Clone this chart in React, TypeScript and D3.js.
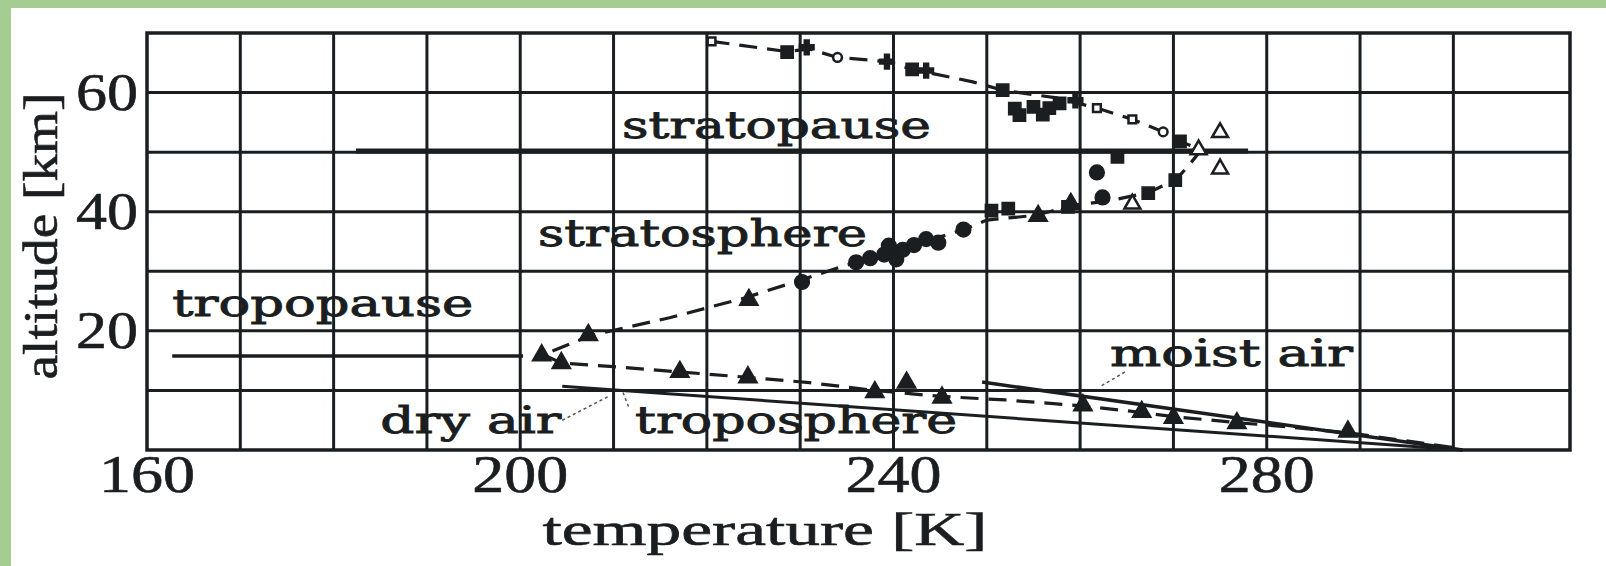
import React from 'react';
import * as d3 from 'd3';

// axes
const tempDomain = [160, 312.5];
const altDomain = [0, 70];
const xTickLabels = [160, 200, 240, 280];
const yTickLabels = [20, 40, 60];

// dashed mean profile, temperature [K] vs altitude [km]
const profileT = [220.5, 228.5, 231, 234, 239.3, 242, 248.5, 251.7, 257.5, 261.8, 265.6, 268.9, 270.7, 273,
  271.5, 270.2, 267.3, 263, 259, 255.3, 250, 247.5, 243, 238, 234.5, 230.2, 224, 216, 207.5, 202.5,
  204.4, 210, 217.1, 224.4, 231, 238, 245, 252, 260.3, 266.6, 270, 276.8, 280, 288.7, 300.5];
const profileAlt = [68.6, 66.9, 67.3, 65.9, 65.2, 63.9, 61.8, 60.4, 59.1, 57.4, 55.5, 53.4, 51.8, 50.4,
  47.5, 45.3, 43.2, 41.8, 41, 39.4, 38.6, 37, 34.8, 32.4, 30.8, 28.6, 25.5, 22.2, 19.2, 16,
  14.6, 14, 13.1, 12.2, 11.3, 10, 9, 8.4, 7.4, 6.3, 5.6, 4.6, 4.2, 2.9, 0.3];

const stratopauseT = [182.4, 278];
const stratopauseAlt = [50.2, 50.2];
const tropopauseT = [162.7, 200.3];
const tropopauseAlt = [15.8, 15.8];
const dryAirT = [204.5, 301];
const dryAirAlt = [10.7, 0];
const moistAirT = [249.5, 301];
const moistAirAlt = [11.4, 0];

// measurements by marker type: [T, alt]
const filledSquares = [[228.6, 66.8], [242, 63.9], [251.7, 60.4], [253, 57.3], [255, 57.6], [256.7, 57.4],
  [253.5, 56.2], [256, 56.3], [257.8, 58.2], [264, 49.2], [270.7, 51.8], [258.7, 40.8], [267.3, 43.1],
  [270.2, 45.3], [250.5, 40.2], [252.3, 40.5]];
const crosses = [[230.7, 67.6], [239.3, 65.2], [243.5, 63.7], [259.5, 58.7]];
const openCircles = [[234, 65.9], [268.9, 53.4]];
const openSquares = [[220.5, 68.6], [261.8, 57.4], [265.6, 55.5]];
const openTriangles = [[275, 53.3], [275, 47.2], [265.6, 41.3], [272.7, 50.4]];
const filledCircles = [[261.8, 46.6], [262.4, 42.4], [230.2, 28.2], [236, 31.5], [237.5, 32.2], [239, 32.8],
  [240.3, 32], [241, 33.6], [242.2, 34.4], [243.5, 35.4], [239.5, 34.3], [244.8, 34.8], [247.5, 37]];
const filledTriangles = [[255.5, 39.3], [259, 41.3], [224.5, 25.2], [207.3, 19.3], [202.3, 15.9], [204.4, 14.6],
  [217.1, 13.1], [224.4, 12.2], [238, 9.7], [241.4, 11.3], [245.2, 8.8], [260.3, 7.5], [266.6, 6.4],
  [270, 5.4], [276.8, 4.5], [288.7, 3.1]];

// annotations: text, anchor (left, baseline) in data units, width in px
const labels = [
  { text: 'stratopause', t: 210.9, alt: 52.3, w: 309 },
  { text: 'stratosphere', t: 201.9, alt: 34.2, w: 329 },
  { text: 'tropopause', t: 162.7, alt: 22.5, w: 301 },
  { text: 'moist air', t: 263.2, alt: 14.1, w: 243 },
  { text: 'dry air', t: 185, alt: 2.8, w: 181 },
  { text: 'troposphere', t: 212.3, alt: 2.8, w: 322 },
];
const leaders = [
  [[204.5, 5.0], [209.6, 9.1]],
  [[211.6, 7.3], [210.9, 10.1]],
  [[264.8, 13.1], [262.1, 10.6]],
];

const INK = '#1b1e20';

export default function App() {
  const x = d3.scaleLinear().domain(tempDomain).range([147, 1570]);
  const y = d3.scaleLinear().domain(altDomain).range([450, 33]);
  const path = (ts: number[], as: number[]) =>
    d3.line()(ts.map((t, i) => [x(t), y(as[i])] as [number, number])) || '';
  const sym = (type: d3.SymbolType, size: number) => d3.symbol().type(type).size(size)() || '';

  const markers = (pts: number[][], type: d3.SymbolType, size: number, filled: boolean) =>
    pts.map((p, i) => (
      <path key={i} d={sym(type, size)}
        transform={`translate(${x(p[0])},${y(p[1])})`}
        fill={filled ? INK : '#fff'} stroke={INK} strokeWidth={filled ? 1.5 : 2.5} />
    ));

  const serif = '"Liberation Serif", "Times New Roman", serif';
  const slab = '"DejaVu Serif", serif';

  return (
    <svg width={1606} height={566} style={{ display: 'block', position: 'absolute', left: 0, top: 0 }}>
      <rect width={1606} height={566} fill="#a3cd91" />
      <rect x={11} y={8} width={1595} height={558} fill="#fff" />

      {/* grid */}
      {d3.range(170, 301, 10).map(t => (
        <line key={'v' + t} x1={x(t)} x2={x(t)} y1={y(70)} y2={y(0)} stroke={INK} strokeWidth={3} />
      ))}
      {d3.range(10, 61, 10).map(a => (
        <line key={'h' + a} x1={x(160)} x2={x(312.5)} y1={y(a)} y2={y(a)} stroke={INK} strokeWidth={3} />
      ))}
      <rect x={x(160)} y={y(70)} width={x(312.5) - x(160)} height={y(0) - y(70)}
        fill="none" stroke={INK} strokeWidth={3.5} />

      {/* reference lines */}
      <path d={path(stratopauseT, stratopauseAlt)} stroke={INK} strokeWidth={5} fill="none" />
      <path d={path(tropopauseT, tropopauseAlt)} stroke={INK} strokeWidth={3.5} fill="none" />
      <path d={path(dryAirT, dryAirAlt)} stroke={INK} strokeWidth={3} fill="none" />
      <path d={path(moistAirT, moistAirAlt)} stroke={INK} strokeWidth={3.5} fill="none" />
      <path d={path(profileT, profileAlt)} stroke={INK} strokeWidth={3.2} fill="none" strokeDasharray="18,10" />

      {leaders.map((l, i) => (
        <line key={i} x1={x(l[0][0])} y1={y(l[0][1])} x2={x(l[1][0])} y2={y(l[1][1])}
          stroke="#555" strokeWidth={1.5} strokeDasharray="3,3" />
      ))}

      {/* measurements */}
      {markers(filledSquares, d3.symbolSquare, 150, true)}
      {markers(filledCircles, d3.symbolCircle, 170, true)}
      {markers(filledTriangles, d3.symbolTriangle, 150, true)}
      {markers(crosses, d3.symbolCross, 120, true)}
      {markers(openCircles, d3.symbolCircle, 60, false)}
      {markers(openSquares, d3.symbolSquare, 60, false)}
      {markers(openTriangles, d3.symbolTriangle, 110, false)}

      {/* annotations */}
      {labels.map(l => (
        <text key={l.text} x={x(l.t)} y={y(l.alt)} fontFamily={slab} fontSize={37} fill={INK}
          stroke={INK} strokeWidth={0.9} textLength={l.w} lengthAdjust="spacingAndGlyphs">{l.text}</text>
      ))}

      {/* tick labels */}
      {xTickLabels.map(t => (
        <text key={t} x={x(t)} y={492} textAnchor="middle" fontFamily={serif} fontSize={52} fill={INK}
          stroke={INK} strokeWidth={0.6} textLength={96} lengthAdjust="spacingAndGlyphs">{t}</text>
      ))}
      {yTickLabels.map(a => (
        <text key={a} x={138} y={y(a) + 17} textAnchor="end" fontFamily={serif} fontSize={52} fill={INK}
          stroke={INK} strokeWidth={0.6} textLength={62} lengthAdjust="spacingAndGlyphs">{a}</text>
      ))}

      <text x={765} y={545} textAnchor="middle" fontFamily={serif} fontSize={46} fill={INK}
        stroke={INK} strokeWidth={0.6} textLength={445} lengthAdjust="spacingAndGlyphs">temperature [K]</text>
      <text transform={`translate(57,236) rotate(-90)`} textAnchor="middle" fontFamily={serif} fontSize={48}
        fill={INK} stroke={INK} strokeWidth={0.6} textLength={287} lengthAdjust="spacingAndGlyphs">altitude [km]</text>
    </svg>
  );
}
